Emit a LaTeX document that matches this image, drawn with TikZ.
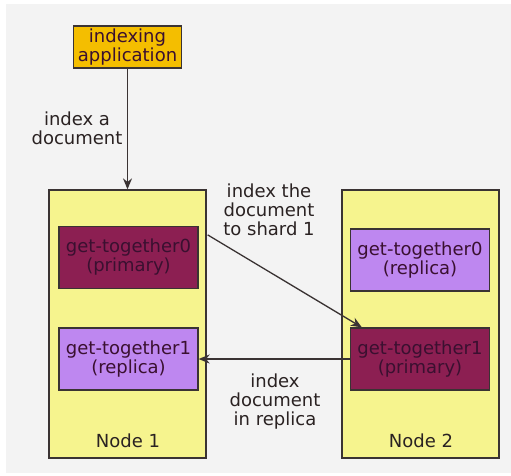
\documentclass[tikz,border=0pt]{standalone}
\usepackage{fontspec}
\setmainfont{DejaVu Sans}
\usetikzlibrary{arrows.meta,calc}
\definecolor{bg}{HTML}{F3F3F3}
\definecolor{appfill}{HTML}{F4BE00}
\definecolor{nodefill}{HTML}{F6F48E}
\definecolor{primfill}{HTML}{8C1F52}
\definecolor{repfill}{HTML}{BE87F0}
\definecolor{edge}{HTML}{3A3333}
\definecolor{txt}{HTML}{2A2222}
\definecolor{boxtxt}{HTML}{3A1030}
\tikzset{
  base/.style={draw=edge, line width=1.3pt, inner sep=0pt, align=center,
    font=\fontsize{18}{19}\selectfont, text=boxtxt},
  appbox/.style={base, fill=appfill, minimum width=108pt, minimum height=42pt},
  hostbox/.style={base, fill=nodefill, minimum width=157pt, minimum height=268pt},
  primbox/.style={base, fill=primfill, minimum width=139pt, minimum height=62pt},
  repbox/.style={base, fill=repfill, minimum width=139pt, minimum height=62pt},
  lbl/.style={align=center, inner sep=0pt, text=txt, font=\fontsize{18}{19}\selectfont},
  conn/.style={draw=edge, line width=1.3pt, -{Stealth[length=11pt,width=9pt]}}
}
\begin{document}
\begin{tikzpicture}[x=1pt,y=-1pt]
\useasboundingbox (0,0) rectangle (511,475);
\fill[bg] (6,4) rectangle (511,473);
\node[appbox] (app) at (127.5,47) {indexing\\application};
\node[hostbox] (n1) at (127.5,324) {};
\node[hostbox] (n2) at (420.5,324) {};
\node[primbox] (g0p) at (128.5,257.5) {get-together0\\(primary)};
\node[repbox] (g1r) at (128.5,359) {get-together1\\(replica)};
\node[repbox] (g0r) at (420,260) {get-together0\\(replica)};
\node[primbox] (g1p) at (420,359) {get-together1\\(primary)};
\node[lbl] (n1l) at (128,441) {Node 1};
\node[lbl] (n2l) at (421,441) {Node 2};
\node[lbl] (la) at (77,128) {index a\\document};
\node[lbl] (lb) at (269,210) {index the\\document\\to shard 1};
\node[lbl] (lc) at (275,402) {index\\document\\in replica};
\coordinate (s1) at ($(g0p.north east)+(9,9)$);
\coordinate (t1) at ($(g1p.north west)+(12,0)$);
\draw[conn] (app.south) -- (n1.north);
\draw[conn] (s1) -- (t1);
\draw[conn] (g1p.west) -- (g1r.east);
\end{tikzpicture}
\end{document}
